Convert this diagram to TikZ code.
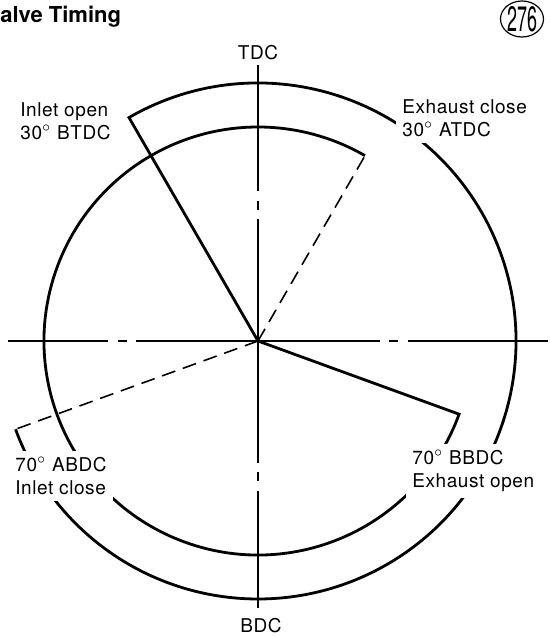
\documentclass[tikz,border=0pt]{standalone}
\usepackage{fontspec}
\usepackage{graphicx}
\setmainfont{TeX Gyre Heros}
\newfontfamily\lblfont[LetterSpace=3]{TeX Gyre Heros}
\usetikzlibrary{shapes.geometric}
\begin{document}
\begin{tikzpicture}[x=0.5pt,y=0.5pt,
  axis/.style={line width=0.6pt,dash pattern={on 61pt off 4.5pt on 4.5pt off 5pt on 400pt}},
  valvearc/.style={line width=1.4pt,line join=miter},
  closeline/.style={line width=0.8pt,dash pattern={on 7pt off 4pt}},
  lbl/.style={font=\lblfont\fontsize{9.5}{11.5}\selectfont,align=left,fill=white,inner sep=3pt}]
\useasboundingbox (-258,-296) rectangle (292,341);

\coordinate (O) at (0,0);
\coordinate (tdcend) at (0,276);
\coordinate (bdcend) at (0,-267);
\coordinate (westend) at (-250,0);
\coordinate (eastend) at (290,0);
\coordinate (inopen) at (120:258);
\coordinate (inclose) at (200:258);
\coordinate (exopen) at (-20:214);
\coordinate (exclose) at (60:214);

\draw[axis] (O) -- (tdcend);
\draw[axis] (O) -- (bdcend);
\draw[axis] (O) -- (westend);
\draw[axis] (O) -- (eastend);

\draw[valvearc] (O) -- (inopen) arc[start angle=120,end angle=-160,radius=258];
\draw[valvearc] (O) -- (exopen) arc[start angle=-20,end angle=-300,radius=214];
\draw[closeline] (O) -- (inclose);
\draw[closeline] (O) -- (exclose);

\node[lbl,anchor=west] (inopenlbl) at (-244,220) {Inlet open\\30$^{\circ}$ BTDC};
\node[lbl,anchor=west] (excloselbl) at (138,223) {Exhaust close\\30$^{\circ}$ ATDC};
\node[lbl,anchor=west] (incloselbl) at (-249,-135) {70$^{\circ}$ ABDC\\Inlet close};
\node[lbl,anchor=west] (exopenlbl) at (148,-130) {70$^{\circ}$ BBDC\\Exhaust open};
\node[lbl,fill=none] (tdc) at (0,288) {TDC};
\node[lbl,fill=none] (bdc) at (3,-285) {BDC};

\node[anchor=west,inner sep=0,font=\bfseries\fontsize{11}{13}\selectfont] (title) at (-258,324) {alve Timing};
\node[ellipse,draw,line width=0.6pt,minimum width=21.5pt,minimum height=18pt,inner sep=-2pt] (fignum) at (264,322)
  {\resizebox{15pt}{12.5pt}{276}};
\end{tikzpicture}
\end{document}
